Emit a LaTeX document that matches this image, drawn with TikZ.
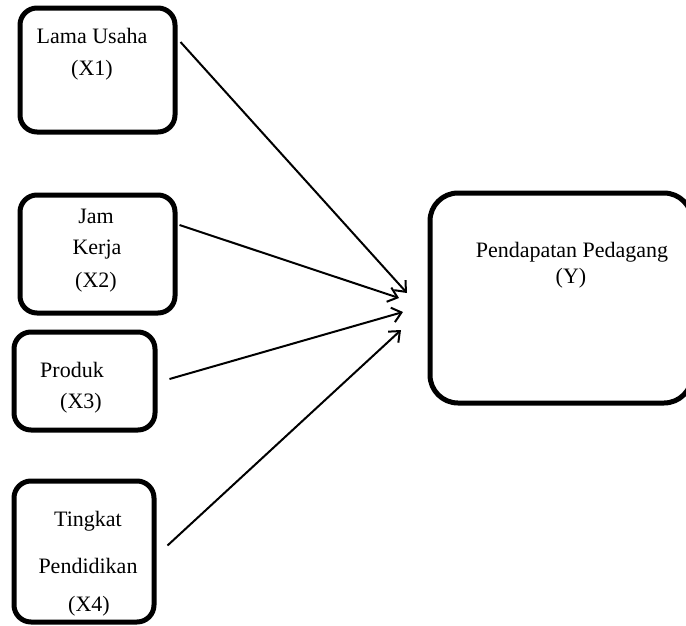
\documentclass[tikz,border=0pt]{standalone}
\usepackage{fontspec}
\setmainfont{Liberation Serif}
\usetikzlibrary{arrows.meta}
\begin{document}
\begin{tikzpicture}[x=1pt,y=-1pt,
  box/.style={draw=black,line width=5pt,rounded corners=17pt,inner sep=0pt},
  lbl/.style={font=\fontsize{22}{26}\selectfont,inner sep=0pt,anchor=center},
  conn/.style={line width=2pt,-{Straight Barb[length=9pt,width=15pt,line width=2pt]}}]
\useasboundingbox (0,0) rectangle (686,625);
% boxes
\node[box,minimum width=155pt,minimum height=124pt] (b1) at (97.5,70) {};
\node[box,minimum width=155pt,minimum height=118pt] (b2) at (97.5,254) {};
\node[box,minimum width=141pt,minimum height=98pt] (b3) at (84.5,381) {};
\node[box,minimum width=140pt,minimum height=141pt] (b4) at (84,551.5) {};
\node[box,minimum width=262pt,minimum height=210pt,rounded corners=28pt] (y) at (561,298) {};
% texts
\node[lbl] (t1a) at (92,36) {Lama Usaha};
\node[lbl] (t1b) at (92,70) {(X1)};
\node[lbl] (t2a) at (96,216) {Jam};
\node[lbl] (t2b) at (97,250) {Kerja};
\node[lbl] (t2c) at (96,282) {(X2)};
\node[lbl] (t3a) at (72,370) {Produk};
\node[lbl] (t3b) at (81,403) {(X3)};
\node[lbl] (t4a) at (88,521) {Tingkat};
\node[lbl] (t4b) at (88,566) {Pendidikan};
\node[lbl] (t4c) at (89,606) {(X4)};
\node[lbl] (ty1) at (572,252) {Pendapatan Pedagang};
\node[lbl] (ty2) at (571,278) {(Y)};
% arrow tips
\coordinate (e1) at (407,293);
\coordinate (e2) at (399,298);
\coordinate (e3) at (403,312);
\coordinate (e4) at (401,330);
% connectors
\draw[conn] ([xshift=3pt,yshift=28pt]b1.east) -- (e1);
\draw[conn] ([xshift=2pt,yshift=29pt]b2.east) -- (e2);
\draw[conn] ([xshift=12pt,yshift=2pt]b3.east) -- (e3);
\draw[conn] ([xshift=11pt,yshift=6pt]b4.east) -- (e4);
\end{tikzpicture}
\end{document}
